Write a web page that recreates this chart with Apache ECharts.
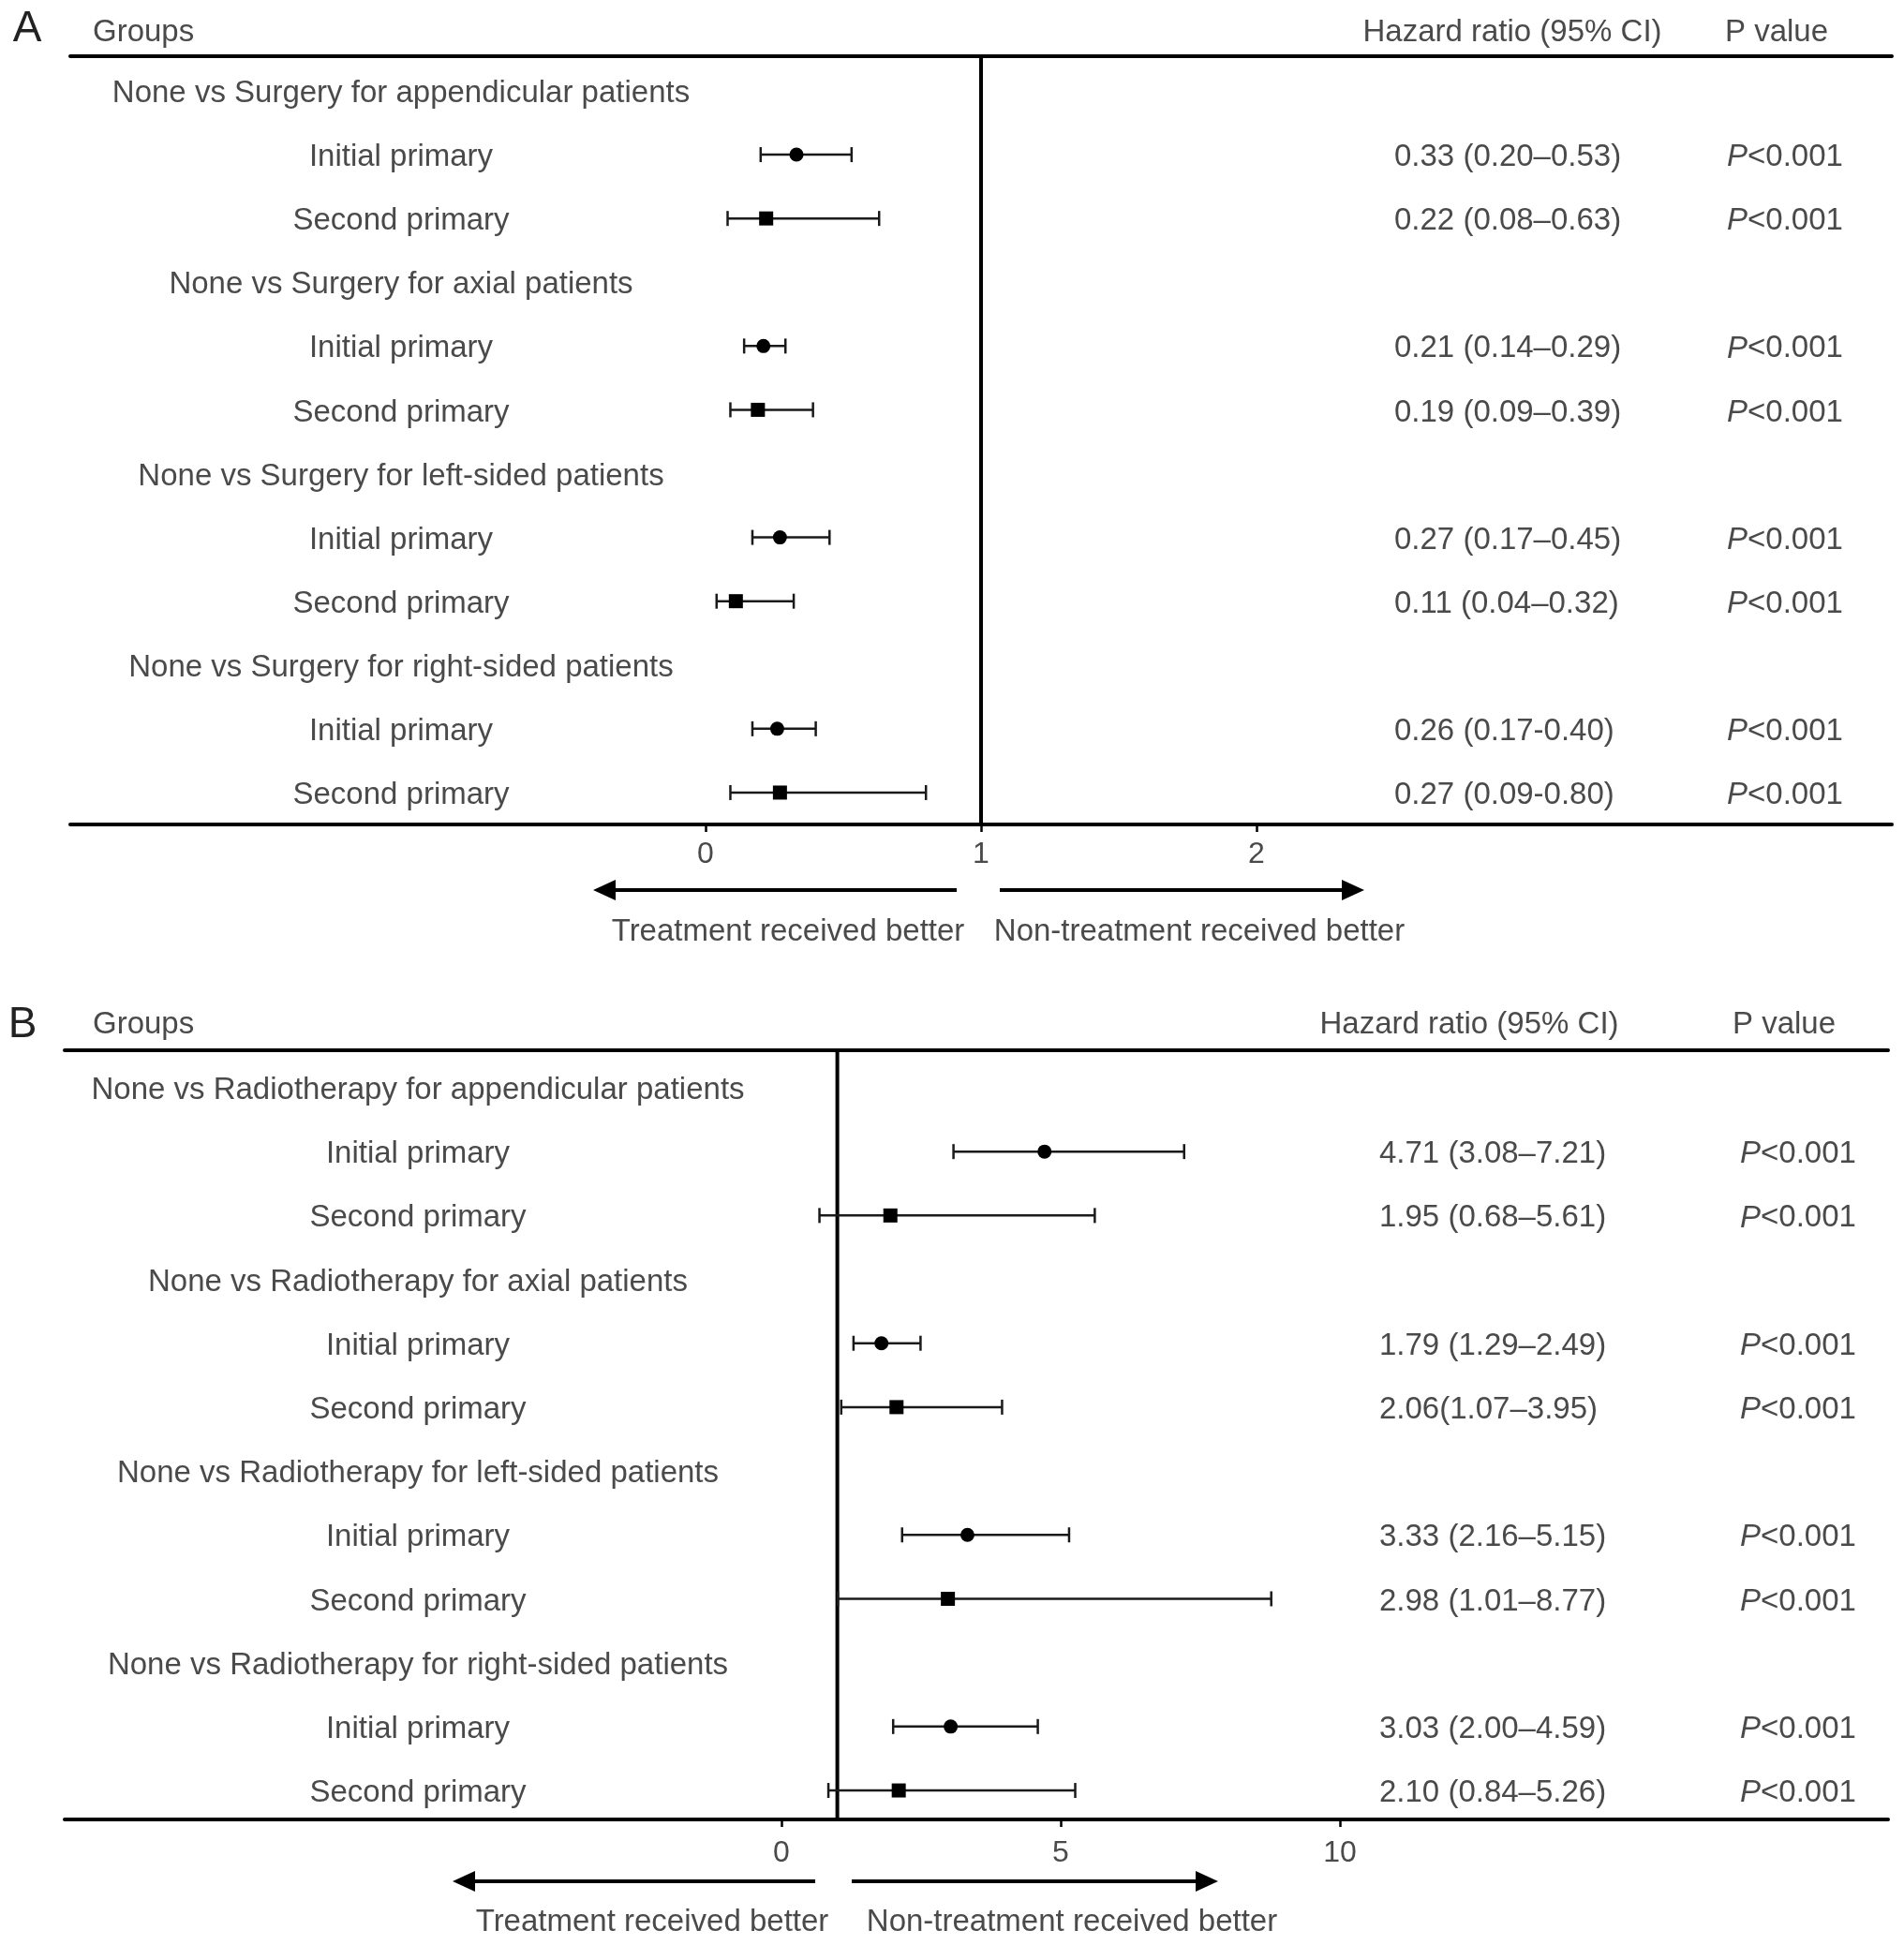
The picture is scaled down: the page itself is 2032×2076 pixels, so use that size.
<!DOCTYPE html>
<html>
<head>
<meta charset="utf-8">
<script src="https://cdn.jsdelivr.net/npm/echarts@6/dist/echarts.min.js"></script>
<style>
html,body{margin:0;padding:0;background:#fff;}
#chart{width:2032px;height:2076px;}
</style>
</head>
<body>
<div id="chart"></div>
<script>
// ---------------- DATA ----------------
const rowsA = [
  'None vs Surgery for appendicular patients', 'Initial primary', 'Second primary',
  'None vs Surgery for axial patients', 'Initial primary', 'Second primary',
  'None vs Surgery for left-sided patients', 'Initial primary', 'Second primary',
  'None vs Surgery for right-sided patients', 'Initial primary', 'Second primary'
];
const hrA = [null, 0.33, 0.22, null, 0.21, 0.19, null, 0.27, 0.11, null, 0.26, 0.27];
const loA = [null, 0.20, 0.08, null, 0.14, 0.09, null, 0.17, 0.04, null, 0.17, 0.09];
const hiA = [null, 0.53, 0.63, null, 0.29, 0.39, null, 0.45, 0.32, null, 0.40, 0.80];
const hrTextA = ['', '0.33 (0.20–0.53)', '0.22 (0.08–0.63)', '', '0.21 (0.14–0.29)', '0.19 (0.09–0.39)',
  '', '0.27 (0.17–0.45)', '0.11 (0.04–0.32)', '', '0.26 (0.17-0.40)', '0.27 (0.09-0.80)'];
const pTextA = ['', 'P<0.001', 'P<0.001', '', 'P<0.001', 'P<0.001', '', 'P<0.001', 'P<0.001', '', 'P<0.001', 'P<0.001'];
const ticksA = [0, 1, 2];

const rowsB = [
  'None vs Radiotherapy for appendicular patients', 'Initial primary', 'Second primary',
  'None vs Radiotherapy for axial patients', 'Initial primary', 'Second primary',
  'None vs Radiotherapy for left-sided patients', 'Initial primary', 'Second primary',
  'None vs Radiotherapy for right-sided patients', 'Initial primary', 'Second primary'
];
const hrB = [null, 4.71, 1.95, null, 1.79, 2.06, null, 3.33, 2.98, null, 3.03, 2.10];
const loB = [null, 3.08, 0.68, null, 1.29, 1.07, null, 2.16, 1.01, null, 2.00, 0.84];
const hiB = [null, 7.21, 5.61, null, 2.49, 3.95, null, 5.15, 8.77, null, 4.59, 5.26];
const hrTextB = ['', '4.71 (3.08–7.21)', '1.95 (0.68–5.61)', '', '1.79 (1.29–2.49)', '2.06(1.07–3.95)',
  '', '3.33 (2.16–5.15)', '2.98 (1.01–8.77)', '', '3.03 (2.00–4.59)', '2.10 (0.84–5.26)'];
const pTextB = ['', 'P<0.001', 'P<0.001', '', 'P<0.001', 'P<0.001', '', 'P<0.001', 'P<0.001', '', 'P<0.001', 'P<0.001'];
const ticksB = [0, 5, 10];

const refValue = 1;
const headerGroups = 'Groups';
const headerHR = 'Hazard ratio (95% CI)';
const headerP = 'P value';
const leftArrowText = 'Treatment received better';
const rightArrowText = 'Non-treatment received better';

// ---------------- STYLE / LAYOUT ----------------
const FONT = "'Liberation Sans', Arial, Helvetica, sans-serif";
const TXT = '#4a4a4a';
const FS = 33;
const TY = 3; // text baseline nudge

const panels = [
  { rows: rowsA, hr: hrA, lo: loA, hi: hiA, hrText: hrTextA, pText: pTextA, ticks: ticksA,
    grid: { left: 75, right: 13, top: 60, height: 820 },
    xMin: -2.3061, xMax: 4.3061, yMin: -0.543, yMax: 11.5,
    labelX: 428, hrX: 1488, pX: 1843, labelMargin: 16 },
  { rows: rowsB, hr: hrB, lo: loB, hi: hiB, hrText: hrTextB, pText: pTextB, ticks: ticksB,
    grid: { left: 69, right: 17, top: 1121, height: 821 },
    xMin: -12.8356, xMax: 19.815, yMin: -0.586, yMax: 11.454,
    labelX: 446, hrX: 1472, pX: 1857, labelMargin: 20 }
];

const chart = echarts.init(document.getElementById('chart'), null, { renderer: 'canvas' });

const grids = [], xAxes = [], yAxes = [], series = [];
panels.forEach((p, gi) => {
  grids.push(Object.assign({ containLabel: false }, p.grid));
  xAxes.push({
    gridIndex: gi, type: 'value', min: p.xMin, max: p.xMax, position: 'bottom',
    axisLine: { show: true, onZero: false, lineStyle: { color: '#000', width: 4 } },
    axisTick: { show: true, customValues: p.ticks, length: 8, lineStyle: { color: '#000', width: 2.5 } },
    axisLabel: { show: true, customValues: p.ticks, fontSize: 32, fontFamily: FONT, color: TXT, margin: p.labelMargin },
    splitLine: { show: false }
  });
  xAxes.push({
    gridIndex: gi, type: 'value', min: p.xMin, max: p.xMax, position: 'top',
    axisLine: { show: true, onZero: false, lineStyle: { color: '#000', width: 4 } },
    axisTick: { show: false }, axisLabel: { show: false }, splitLine: { show: false }
  });
  yAxes.push({ gridIndex: gi, type: 'value', inverse: true, min: p.yMin, max: p.yMax, show: false });

  const xIdx = gi * 2;

  // reference line at HR = 1
  series.push({
    type: 'custom', xAxisIndex: xIdx, yAxisIndex: gi, silent: true, clip: false,
    data: [[refValue, 0]],
    renderItem: function (params, api) {
      const cs = params.coordSys;
      const x = api.coord([api.value(0), 0])[0];
      return { type: 'line', shape: { x1: x, y1: cs.y, x2: x, y2: cs.y + cs.height },
        style: { stroke: '#000', lineWidth: 4 } };
    }
  });

  // error bars + markers
  const ebData = [];
  p.rows.forEach((r, i) => {
    if (p.hr[i] != null) ebData.push([i, p.hr[i], p.lo[i], p.hi[i], r.indexOf('Initial') === 0 ? 0 : 1]);
  });
  series.push({
    type: 'custom', xAxisIndex: xIdx, yAxisIndex: gi, silent: true, clip: false,
    encode: { x: [1, 2, 3], y: 0 },
    data: ebData,
    renderItem: function (params, api) {
      const row = api.value(0);
      const c = api.coord([api.value(1), row]);
      const l = api.coord([api.value(2), row]);
      const h = api.coord([api.value(3), row]);
      const capH = 8;
      const st = { stroke: '#1a1a1a', lineWidth: 2.5 };
      const children = [
        { type: 'line', shape: { x1: l[0], y1: l[1], x2: h[0], y2: h[1] }, style: st },
        { type: 'line', shape: { x1: l[0], y1: l[1] - capH, x2: l[0], y2: l[1] + capH }, style: st },
        { type: 'line', shape: { x1: h[0], y1: h[1] - capH, x2: h[0], y2: h[1] + capH }, style: st }
      ];
      if (api.value(4) === 0) {
        children.push({ type: 'circle', shape: { cx: c[0], cy: c[1], r: 7.5 }, style: { fill: '#000' } });
      } else {
        children.push({ type: 'rect', shape: { x: c[0] - 7.5, y: c[1] - 7.5, width: 15, height: 15 }, style: { fill: '#000' } });
      }
      return { type: 'group', children: children };
    }
  });

  // row texts (labels, HR text, P values)
  series.push({
    type: 'custom', xAxisIndex: xIdx, yAxisIndex: gi, silent: true, clip: false,
    encode: { x: 0, y: 1 },
    data: p.rows.map((r, i) => [0, i]),
    renderItem: function (params, api) {
      const i = api.value(1);
      const y = api.coord([0, i])[1] + TY;
      const children = [{
        type: 'text', x: p.labelX, y: y,
        style: { text: p.rows[i], fontSize: FS, fontFamily: FONT, fill: TXT, align: 'center', verticalAlign: 'middle' }
      }];
      if (p.hrText[i]) {
        children.push({ type: 'text', x: p.hrX, y: y,
          style: { text: p.hrText[i], fontSize: FS, fontFamily: FONT, fill: TXT, align: 'left', verticalAlign: 'middle' } });
      }
      if (p.pText[i]) {
        const t = p.pText[i];
        children.push({ type: 'text', x: p.pX, y: y,
          style: { text: '{i|' + t.charAt(0) + '}{n|' + t.slice(1) + '}', align: 'left', verticalAlign: 'middle',
            fontSize: FS, fontFamily: FONT, fill: TXT,
            rich: { i: { fontStyle: 'italic', fontSize: FS, fontFamily: FONT, fill: TXT },
                    n: { fontSize: FS, fontFamily: FONT, fill: TXT } } } });
      }
      return { type: 'group', children: children };
    }
  });
});

function txt(text, x, y, align, size) {
  return { type: 'text', x: x, y: y + TY, silent: true,
    style: { text: text, fontSize: size || FS, fontFamily: FONT, fill: TXT, align: align, verticalAlign: 'middle' } };
}
function arrow(x1, x2, y) {
  const dir = x2 > x1 ? 1 : -1;
  const headL = 24, headH = 11;
  const bx = x2 - dir * headL;
  return [
    { type: 'line', silent: true, shape: { x1: x1, y1: y, x2: bx, y2: y }, style: { stroke: '#000', lineWidth: 4 } },
    { type: 'polygon', silent: true, shape: { points: [[x2, y], [bx, y - headH], [bx, y + headH]] }, style: { fill: '#000' } }
  ];
}

const graphics = [
  { type: 'text', x: 29, y: 31, silent: true, style: { text: 'A', fontSize: 46, fontFamily: FONT, fill: '#222', align: 'center', verticalAlign: 'middle' } },
  { type: 'text', x: 24, y: 1094, silent: true, style: { text: 'B', fontSize: 46, fontFamily: FONT, fill: '#222', align: 'center', verticalAlign: 'middle' } },
  txt(headerGroups, 99, 32, 'left'),
  txt(headerHR, 1614, 32, 'center'),
  txt(headerP, 1841, 32, 'left'),
  txt(headerGroups, 99, 1091, 'left'),
  txt(headerHR, 1568, 1091, 'center'),
  txt(headerP, 1849, 1091, 'left'),
  txt(leftArrowText, 841, 992, 'center'),
  txt(rightArrowText, 1280, 992, 'center'),
  txt(leftArrowText, 696, 2049, 'center'),
  txt(rightArrowText, 1144, 2049, 'center')
].concat(arrow(1021, 633, 950), arrow(1067, 1456, 950), arrow(870, 483, 2008), arrow(909, 1300, 2008));

chart.setOption({
  animation: false,
  backgroundColor: '#fff',
  grid: grids,
  xAxis: xAxes,
  yAxis: yAxes,
  series: series,
  graphic: graphics
});
</script>
</body>
</html>
